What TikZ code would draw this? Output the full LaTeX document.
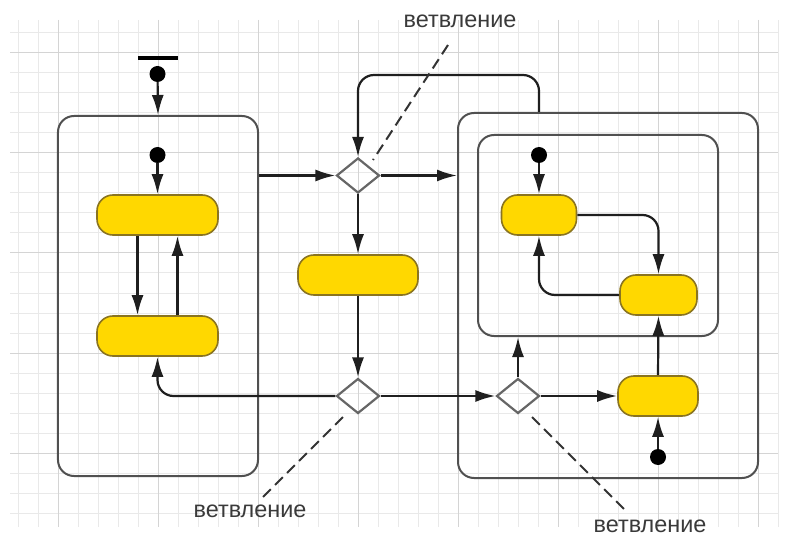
\documentclass[tikz,border=0pt]{standalone}
\usepackage{fontspec}
\setmainfont{Liberation Sans}
\usetikzlibrary{shapes.geometric,arrows.meta,calc}
\definecolor{gminor}{HTML}{E9E9E9}
\definecolor{gmajor}{HTML}{D4D4D4}
\definecolor{ybox}{HTML}{FFD800}
\definecolor{ystroke}{HTML}{8A7420}
\definecolor{frame}{HTML}{505050}
\definecolor{txt}{HTML}{3A3A3A}
\begin{document}
\begin{tikzpicture}[x=1bp,y=-1bp,
  act/.style={draw=ystroke, fill=ybox, line width=1.6bp, rounded corners=16bp, minimum height=40bp, inner sep=0pt},
  cont/.style={draw=frame, line width=2bp, rounded corners=16bp, inner sep=0pt},
  dec/.style={diamond, draw=black!60, line width=2.2bp, minimum width=43bp, minimum height=35bp, inner sep=0pt},
  dot/.style={circle, fill=black, minimum size=16bp, inner sep=0pt},
  bar/.style={rectangle, fill=black, minimum width=40bp, minimum height=4bp, inner sep=0pt},
  conn/.style={draw=black!88, line width=2.2bp, -{Latex[length=20bp,width=12bp]}},
  note/.style={draw=black!80, line width=2bp, dash pattern=on 11bp off 6bp},
  lbl/.style={text=txt, font=\fontsize{23.5}{28}\selectfont, inner sep=0pt}
]
\useasboundingbox (0,0) rectangle (788,536);
% grid
\foreach \x in {18,38,...,778} \draw[gminor, line width=1bp] (\x,20) -- (\x,527);
\foreach \y in {33,53,...,513} \draw[gminor, line width=1bp] (10,\y) -- (778,\y);
\foreach \x in {58,158,...,758} \draw[gmajor, line width=1bp] (\x,20) -- (\x,527);
\foreach \y in {53,153,...,453} \draw[gmajor, line width=1bp] (10,\y) -- (778,\y);

% containers
\node[cont, minimum width=200bp, minimum height=360bp] (Lcont) at (158,296) {};
\node[cont, minimum width=300bp, minimum height=365bp] (Rcont) at (608,295.5) {};
\node[cont, minimum width=240bp, minimum height=201bp] (Icont) at (598,235.5) {};

% activities
\node[act, minimum width=121bp] (L1) at (157.5,215) {};
\node[act, minimum width=121bp] (L2) at (157.5,336) {};
\node[act, minimum width=120bp] (M) at (358,275) {};
\node[act, minimum width=75bp] (R1) at (539,215) {};
\node[act, minimum width=77bp] (R2) at (658.5,295) {};
\node[act, minimum width=80bp] (R3) at (658,396) {};

% decisions
\node[dec] (D1) at (358,175.5) {};
\node[dec] (D2) at (358,396) {};
\node[dec] (D3) at (518,396) {};

% start / end markers
\node[bar] (bar0) at (157.5,58) {};
\node[dot] (dot0) at (157.5,74) {};
\node[dot] (dot1) at (157.5,155) {};
\node[dot] (dot2) at (539,155) {};
\node[dot] (dot3) at (658,457) {};

% labels
\node[lbl] (lab1) at (460,21.5) {ветвление};
\node[lbl] (lab2) at (250,511) {ветвление};
\node[lbl] (lab3) at (650,526) {ветвление};

\coordinate (n1a) at (448,45);
\coordinate (n1b) at (373,160);
\coordinate (n2a) at (263,497);
\coordinate (n2b) at (343,417);
\coordinate (n3a) at (532,417);
\coordinate (n3b) at (628,513);
\coordinate (loopy) at (0,75);

% connectors
\draw[conn] (dot0) -- (Lcont.north);
\draw[conn] (dot1) -- (L1.north);
\draw[conn] ([xshift=-20bp]L1.south) -- ([xshift=-20bp]L2.north);
\draw[conn] ([xshift=20bp]L2.north) -- ([xshift=20bp]L1.south);
\draw[conn] (Lcont.east |- D1.west) -- (D1.west);
\draw[conn] (D1.east) -- (D1.east -| Rcont.west);
\draw[conn] (D1.south) -- (M.north);
\draw[conn] (M.south) -- (D2.north);
\draw[conn, rounded corners=16bp] (D2.west) -| (L2.south);
\draw[conn] (D2.east) -- (D3.west);
\draw[conn] (D3.north) -- (D3.north |- Icont.south);
\draw[conn] (D3.east) -- (R3.west);
\draw[conn] (dot3) -- (R3.south);
\draw[conn] (R3.north) -- (R2.south);
\draw[conn] (dot2) -- (R1.north);
\draw[conn, rounded corners=16bp] (R1.east) -| (R2.north);
\draw[conn, rounded corners=16bp] (R2.west) -| (R1.south);
\draw[conn, rounded corners=16bp] (R1.north |- Rcont.north) |- (D1.north |- loopy) -- (D1.north);

% notes
\draw[note] (n1a) -- (n1b);
\draw[note] (n2a) -- (n2b);
\draw[note] (n3a) -- (n3b);
\end{tikzpicture}
\end{document}
